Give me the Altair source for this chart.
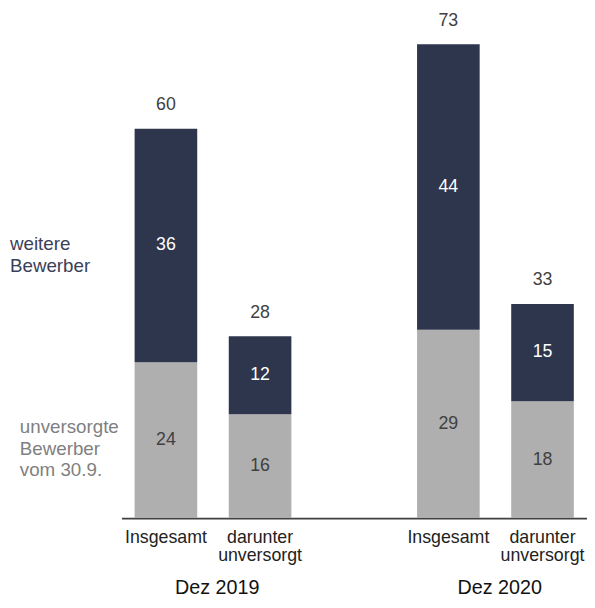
import altair as alt
import pandas as pd

slots = ["2019_I", "2019_D", "gap", "2020_I", "2020_D"]
bar_ids = ["2019_I", "2019_D", "2020_I", "2020_D"]
groups = ["Dez 2019", "Dez 2019", "Dez 2020", "Dez 2020"]
bar_labels = ["Insgesamt", "darunter\nunversorgt", "Insgesamt", "darunter\nunversorgt"]
unversorgt = [24, 16, 29, 18]
weitere = [36, 12, 44, 15]
totals = [60, 28, 73, 33]

NAVY = "#2e364d"
GRAY = "#afafaf"
TXT = "#404040"
FONT = "Liberation Sans"
W, H = 472, 500

rows = []
for i, b in enumerate(bar_ids):
    rows.append(dict(bar=b, seg="unv", y0=0, y1=unversorgt[i], val=unversorgt[i], tc=TXT))
    rows.append(dict(bar=b, seg="wei", y0=unversorgt[i], y1=unversorgt[i] + weitere[i],
                     val=weitere[i], tc="#ffffff"))
seg_df = pd.DataFrame(rows)
seg_df["mid"] = (seg_df.y0 + seg_df.y1) / 2
bars_df = pd.DataFrame(dict(bar=bar_ids, group=groups, label=bar_labels, total=totals))

xs = alt.Scale(domain=slots, paddingInner=0.335, paddingOuter=0.14)
ys = alt.Scale(domain=[0, 76], nice=False)
X = alt.X("bar:N", scale=xs, axis=alt.Axis(title=None, labels=False, ticks=False, grid=False,
                                             domainColor=TXT, domainWidth=1.8))
Y = alt.Y("y1:Q", scale=ys, axis=None)

bars = alt.Chart(seg_df).mark_bar().encode(
    x=X, y=Y, y2="y0:Q",
    color=alt.Color("seg:N", scale=alt.Scale(domain=["unv", "wei"], range=[GRAY, NAVY]), legend=None),
)
seg_text = alt.Chart(seg_df).mark_text(font=FONT, fontSize=18, baseline="middle").encode(
    x=alt.X("bar:N", scale=xs), y=alt.Y("mid:Q", scale=ys), text="val:Q",
    fill=alt.Fill("tc:N", scale=None),
)
tot_text = alt.Chart(bars_df).mark_text(font=FONT, fontSize=18, baseline="alphabetic", dy=-19,
                                        color=TXT).encode(
    x=alt.X("bar:N", scale=xs), y=alt.Y("total:Q", scale=ys), text="total:Q",
)
cat_text = alt.Chart(bars_df).mark_text(font=FONT, fontSize=18, baseline="alphabetic", lineBreak="\n",
                                        lineHeight=19, color="#222222").encode(
    x=alt.X("bar:N", scale=xs), y=alt.value(H + 25), text="label:N",
)
grp_df = bars_df[bars_df.label == "Insgesamt"]
grp_text = alt.Chart(grp_df).mark_text(font=FONT, fontSize=20, baseline="alphabetic", dx=52,
                                       color="#111111").encode(
    x=alt.X("bar:N", scale=xs), y=alt.value(H + 77), text="group:N",
)
side_df = pd.DataFrame(dict(t=["weitere\nBewerber", "unversorgte\nBewerber\nvom 30.9."],
                            c=["navy", "gray"]))
side1 = alt.Chart(side_df[side_df.c == "navy"]).mark_text(
    font=FONT, fontSize=19, align="left", baseline="alphabetic", lineBreak="\n", lineHeight=22.5,
    color="#3a4058"
).encode(x=alt.value(-113), y=alt.value(228), text="t:N")
side2 = alt.Chart(side_df[side_df.c == "gray"]).mark_text(
    font=FONT, fontSize=19, align="left", baseline="alphabetic", lineBreak="\n", lineHeight=21.7,
    color="#808080"
).encode(x=alt.value(-103), y=alt.value(414), text="t:N")

chart = alt.layer(bars, seg_text, tot_text, cat_text, grp_text, side1, side2).properties(
    width=W, height=H,
    autosize=alt.AutoSizeParams(type="none"),
    padding={"left": 115, "top": 13, "right": 0, "bottom": 79},
).configure_view(stroke=None)

chart.save("out.html", embed_options={"renderer": "svg", "actions": False})
